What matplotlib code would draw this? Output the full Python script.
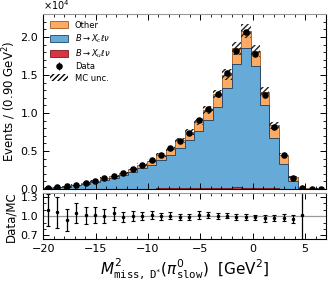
import numpy as np
import matplotlib
matplotlib.use("Agg")
import matplotlib.pyplot as plt
from matplotlib.patches import Patch
from matplotlib.ticker import MultipleLocator

# binning: -20 .. 7 in 0.9 GeV^2 steps
edges = np.linspace(-20, 7, 31)
centers = 0.5 * (edges[1:] + edges[:-1])

# events per bin
data = [180, 240, 350, 570, 830, 1100, 1400, 1750, 2100, 2630, 3160, 3800, 4470, 5350, 6280,
        7410, 9040, 10570, 12500, 15200, 18200, 20600, 17800, 12300, 8100, 4400, 1500, 120, 55, 40]
xu = [5, 5, 8, 10, 12, 15, 18, 22, 28, 35, 42, 50, 60, 70, 85,
      100, 120, 140, 160, 180, 190, 180, 150, 110, 70, 35, 10, 1, 0, 0]
xc = [134, 187, 309, 453, 686, 905, 1177, 1413, 1782, 2215, 2668, 3110, 3740, 4400, 5295,
      6350, 7540, 8970, 10640, 13070, 16290, 18420, 16010, 10940, 6680, 3275, 1060, 56, 25, 15]
other = [25, 34, 55, 80, 120, 160, 205, 245, 310, 380, 450, 580, 670, 830, 1000,
         1070, 1200, 1300, 1700, 1800, 2000, 2200, 2000, 1700, 1600, 1200, 500, 60, 35, 25]
# relative MC uncertainty per bin
mc_rel = [0.22, 0.22, 0.17, 0.15, 0.125, 0.125, 0.105, 0.095, 0.075, 0.075, 0.065, 0.065, 0.055, 0.055, 0.05,
          0.05, 0.055, 0.05, 0.045, 0.045, 0.045, 0.045, 0.045, 0.05, 0.05, 0.05, 0.055, 0.5, 0.5, 0.5]

data = np.array(data, float)
xu = np.array(xu, float)
xc = np.array(xc, float)
other = np.array(other, float)
mc_rel = np.array(mc_rel)

c_other = "#fdaa62"
c_xc = "#66aad8"
c_xu = "#d8363f"

mc = xu + xc + other
mc_unc = mc * mc_rel

fig = plt.figure(figsize=(3.32, 2.82), dpi=100)
ax = fig.add_axes([0.13, 0.33, 0.852, 0.62])
rax = fig.add_axes([0.13, 0.152, 0.852, 0.163])

s = 1e4
ax.hist([centers, centers, centers], bins=edges, weights=[xu / s, xc / s, other / s],
        stacked=True, histtype="stepfilled", color=[c_xu, c_xc, c_other],
        edgecolor=["#7a1a20", "#1f3f66", "#9a5a20"], linewidth=0.6)
ax.bar(centers, 2 * mc_unc / s, width=0.9, bottom=(mc - mc_unc) / s, fill=False,
       hatch="//////", linewidth=0, edgecolor="#222222")
dat = ax.errorbar(centers, data / s, yerr=np.sqrt(data) / s, fmt="o", color="black",
                  markersize=3.7, elinewidth=0.8)

ax.set_xlim(-20, 7)
ax.set_ylim(0, 2.3)
ax.set_ylabel("Events / (0.90 GeV$^2$)", fontsize=8.5, labelpad=2)
ax.text(0.0, 1.01, r"$\times10^4$", transform=ax.transAxes, fontsize=7, ha="left", va="bottom")
ax.tick_params(labelbottom=False)

handles = [Patch(facecolor=c_other, edgecolor="#9a5a20", linewidth=0.6),
           Patch(facecolor=c_xc, edgecolor="#1f3f66", linewidth=0.6),
           Patch(facecolor=c_xu, edgecolor="#7a1a20", linewidth=0.6),
           dat,
           Patch(fill=False, hatch="//////", linewidth=0)]
labels = ["Other", r"$B\to X_c\ell\nu$", r"$B\to X_u\ell\nu$", "Data", "MC unc."]
ax.legend(handles, labels, loc="upper left", fontsize=6, frameon=False,
          handlelength=2.2, handleheight=0.9, labelspacing=0.3, borderaxespad=0.4)

# ratio panel
ratio = data / mc
rerr = np.sqrt(mc_rel ** 2 + 1 / data) * ratio
show = mc > 100
rax.axhline(1.0, color="#999999", linewidth=0.9)
rax.errorbar(centers[show], ratio[show], yerr=rerr[show], fmt="o", color="black",
             markersize=1.5, elinewidth=0.9, capsize=1.3, capthick=0.8)
rax.set_xlim(-20, 7)
rax.set_ylim(0.64, 1.36)
rax.set_yticks([0.7, 1.0, 1.3])
rax.set_ylabel("Data/MC", fontsize=8.5, labelpad=2)
rax.set_xlabel(r"$M^2_{\mathtt{miss,\,D^{*}}}(\pi^0_{\mathtt{slow}})$  [GeV$^2$]", fontsize=11, labelpad=2)

for a in (ax, rax):
    a.xaxis.set_major_locator(MultipleLocator(5))
    a.xaxis.set_minor_locator(MultipleLocator(1))
    a.tick_params(which="both", direction="in", top=True, right=True, labelsize=8)
    a.tick_params(which="major", length=4, width=0.7)
    a.tick_params(which="minor", length=2, width=0.6)
    a.spines["top"].set_color("#999999")
    for sp in ("left", "right", "bottom"):
        a.spines[sp].set_linewidth(0.8)
ax.yaxis.set_major_locator(MultipleLocator(0.5))
ax.yaxis.set_minor_locator(MultipleLocator(0.1))
rax.yaxis.set_minor_locator(MultipleLocator(0.1))

fig.savefig("out.png", dpi=100)
